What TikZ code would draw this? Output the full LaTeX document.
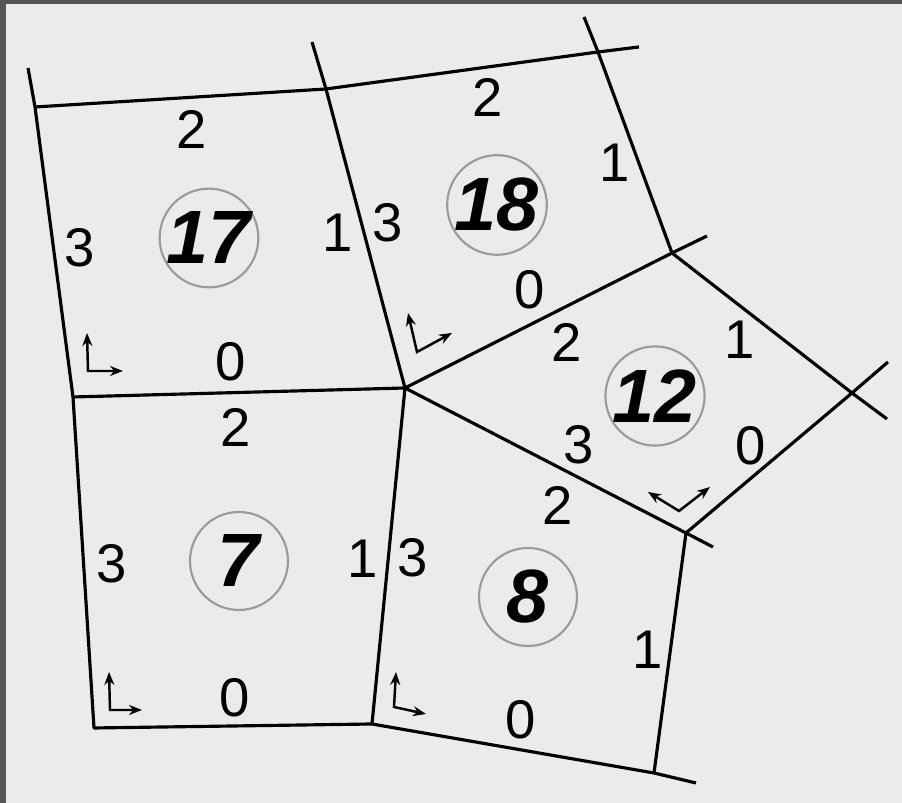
\documentclass[tikz,border=0pt]{standalone}
\usepackage{fontspec}
\setmainfont{Liberation Sans}
\usepackage{tikz}
\usetikzlibrary{arrows.meta}
\usepackage{xcolor}
\definecolor{meshBg}{HTML}{EBEBEB}
\definecolor{meshFrame}{HTML}{555555}
\definecolor{meshCircle}{HTML}{9A9A9A}

\begin{document}
\begin{tikzpicture}[
    x=0.1mm, y=-0.1mm,
    >={Stealth[length=1.3mm,width=1mm]},
    mesh/.style={draw=black, line width=0.9pt, line join=round},
    axis/.style={<->, draw=black, line width=0.7pt},
    edgelabel/.style={inner sep=0pt, font=\fontsize{15.5}{17}\selectfont},
    cellid/.style={circle, draw=meshCircle, line width=0.6pt, minimum size=9.8mm, inner sep=0pt, font=\fontsize{21.5}{24}\selectfont\bfseries\itshape}
]
    \fill[meshBg] (0,0) rectangle (902,803);
    \fill[meshFrame] (0,0) rectangle (902,4);
    \fill[meshFrame] (0,0) rectangle (6,803);

    \coordinate (tA) at (28,68);
    \coordinate (vB) at (35,107);
    \coordinate (vC) at (326,89);
    \coordinate (tD) at (312,42);
    \coordinate (vE) at (598,52);
    \coordinate (tF) at (584,17);
    \coordinate (tG) at (639,47);
    \coordinate (vH) at (672,253);
    \coordinate (tI) at (707,236);
    \coordinate (vO) at (405,388);
    \coordinate (vJ) at (852,393);
    \coordinate (tK1) at (888,362);
    \coordinate (tK2) at (887,419);
    \coordinate (vL) at (686,533);
    \coordinate (tM) at (713,547);
    \coordinate (vN) at (654,773);
    \coordinate (tP) at (696,783);
    \coordinate (vQ) at (372,724);
    \coordinate (vR) at (94,728);
    \coordinate (vS) at (73,397);

    \draw[mesh] (tA) -- (vB) -- (vS) -- (vR) -- (vQ) -- (vN) -- (tP);
    \draw[mesh] (vB) -- (vC) -- (vE) -- (tG);
    \draw[mesh] (tD) -- (vC) -- (vO) -- (vQ);
    \draw[mesh] (vS) -- (vO) -- (vH) -- (tI);
    \draw[mesh] (tF) -- (vE) -- (vH) -- (vJ) -- (tK2);
    \draw[mesh] (tK1) -- (vJ) -- (vL) -- (vN);
    \draw[mesh] (vO) -- (vL) -- (tM);

    \node[cellid] (c17) at (209,238) {17};
    \node[edgelabel] (e17t) at (192,130) {2};
    \node[edgelabel] (e17l) at (80,248) {3};
    \node[edgelabel] (e17r) at (338,233) {1};
    \node[edgelabel] (e17b) at (231,362) {0};
    \draw[axis] (87,333) -- (88,371) -- (123,371);

    \node[cellid] (c18) at (497,205) {18};
    \node[edgelabel] (e18t) at (488,97) {2};
    \node[edgelabel] (e18l) at (388,223) {3};
    \node[edgelabel] (e18r) at (615,163) {1};
    \node[edgelabel] (e18b) at (530,290) {0};
    \draw[axis] (408,313) -- (417,352) -- (452,333);

    \node[cellid] (c12) at (655,396) {12};
    \node[edgelabel] (e12t) at (567,342) {2};
    \node[edgelabel] (e12l) at (579,445) {3};
    \node[edgelabel] (e12r) at (740,340) {1};
    \node[edgelabel] (e12b) at (751,446) {0};
    \draw[axis] (648,492) -- (679,511) -- (710,487);

    \node[cellid] (c7) at (239,561) {7};
    \node[edgelabel] (e7t) at (236,427) {2};
    \node[edgelabel] (e7l) at (112,564) {3};
    \node[edgelabel] (e7r) at (363,559) {1};
    \node[edgelabel] (e7b) at (235,698) {0};
    \draw[axis] (109,672) -- (110,710) -- (142,710);

    \node[cellid] (c8) at (528,597) {8};
    \node[edgelabel] (e8t) at (558,505) {2};
    \node[edgelabel] (e8l) at (413,558) {3};
    \node[edgelabel] (e8r) at (648,650) {1};
    \node[edgelabel] (e8b) at (521,720) {0};
    \draw[axis] (396,672) -- (394,707) -- (426,714);
\end{tikzpicture}
\end{document}
